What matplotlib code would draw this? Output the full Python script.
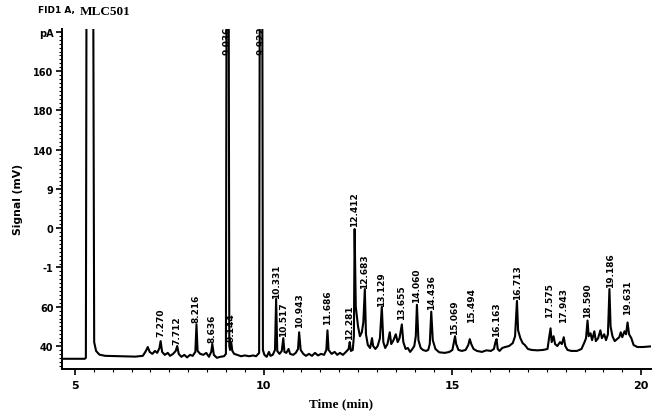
import numpy as np
import matplotlib.pyplot as plt
from matplotlib.ticker import MultipleLocator

# detector trace (time in min, signal)
time_min = [4.60, 5.26, 5.29, 5.31, 5.48, 5.51, 5.56, 5.65, 5.80, 6.20, 6.60, 6.80,
            6.88, 6.93, 6.98, 7.05, 7.12, 7.18, 7.24, 7.27, 7.31, 7.38, 7.46, 7.52,
            7.60, 7.67, 7.71, 7.75, 7.82, 7.90, 7.97, 8.05, 8.12, 8.19, 8.22, 8.25,
            8.32, 8.40, 8.48, 8.55, 8.61, 8.64, 8.68, 8.76, 8.85, 8.95, 9.00, 9.02,
            9.07, 9.09, 9.11, 9.14, 9.17, 9.22, 9.30, 9.40, 9.50, 9.62, 9.72, 9.80,
            9.88, 9.90, 9.96, 9.98, 10.02, 10.08, 10.14, 10.18, 10.24, 10.30, 10.33, 10.36,
            10.42, 10.48, 10.52, 10.55, 10.60, 10.66, 10.70, 10.78, 10.85, 10.91, 10.94, 10.98,
            11.05, 11.12, 11.20, 11.28, 11.36, 11.44, 11.52, 11.60, 11.66, 11.69, 11.72, 11.80,
            11.88, 11.95, 12.02, 12.10, 12.18, 12.25, 12.28, 12.31, 12.36, 12.39, 12.41, 12.44,
            12.50, 12.55, 12.60, 12.64, 12.68, 12.71, 12.76, 12.82, 12.87, 12.90, 12.96, 13.02,
            13.08, 13.13, 13.17, 13.22, 13.28, 13.34, 13.38, 13.44, 13.50, 13.55, 13.60, 13.66,
            13.70, 13.76, 13.82, 13.88, 13.94, 13.99, 14.03, 14.06, 14.10, 14.16, 14.22, 14.30,
            14.36, 14.40, 14.44, 14.48, 14.55, 14.65, 14.80, 14.92, 15.00, 15.04, 15.07, 15.10,
            15.16, 15.25, 15.35, 15.42, 15.46, 15.50, 15.56, 15.65, 15.78, 15.90, 16.02, 16.10,
            16.14, 16.17, 16.20, 16.25, 16.32, 16.40, 16.50, 16.60, 16.66, 16.71, 16.74, 16.80,
            16.86, 16.92, 17.00, 17.10, 17.25, 17.40, 17.52, 17.56, 17.60, 17.63, 17.68, 17.72,
            17.78, 17.85, 17.90, 17.95, 17.99, 18.05, 18.15, 18.30, 18.42, 18.50, 18.54, 18.58,
            18.61, 18.66, 18.70, 18.76, 18.80, 18.86, 18.92, 18.96, 19.02, 19.07, 19.12, 19.16,
            19.19, 19.24, 19.30, 19.36, 19.42, 19.46, 19.50, 19.56, 19.60, 19.64, 19.68, 19.74,
            19.80, 19.90, 20.05, 20.25]
signal = [33.5, 33.5, 34.0, 260, 260, 42.0, 37.5, 35.6, 35.0, 34.8, 34.6, 35.0,
          37.5, 39.5, 37.0, 36.0, 37.5, 36.5, 39.0, 42.5, 37.0, 35.5, 36.5, 35.0,
          36.0, 37.5, 40.0, 36.0, 34.5, 35.5, 34.2, 35.5, 35.0, 37.0, 51.0, 37.5,
          36.0, 35.5, 36.5, 34.5, 37.0, 41.0, 35.5, 34.0, 34.5, 34.8, 36.0, 260,
          260, 40.0, 38.0, 42.0, 37.5, 36.0, 35.5, 34.8, 35.2, 34.8, 35.2, 34.8,
          36.5, 260, 260, 38.0, 35.5, 34.5, 37.0, 35.0, 35.5, 38.0, 64.0, 37.5,
          36.0, 37.5, 44.0, 37.0, 36.5, 38.5, 36.0, 35.5, 36.5, 38.5, 47.0, 38.0,
          36.0, 35.0, 36.0, 35.0, 36.5, 35.2, 36.0, 35.5, 38.0, 48.0, 38.0, 36.0,
          37.0, 35.5, 36.5, 35.5, 37.0, 38.5, 42.0, 37.5, 38.0, 45.0, 99.6, 60.0,
          50.0, 45.0, 47.0, 52.0, 69.0, 46.0, 40.5, 39.0, 44.0, 40.0, 38.5, 40.0,
          44.0, 60.0, 42.0, 39.0, 41.0, 47.0, 41.0, 43.0, 46.0, 42.0, 44.0, 51.0,
          42.0, 38.5, 39.0, 37.0, 38.5, 40.0, 45.0, 61.0, 43.0, 39.0, 38.0, 37.5,
          38.0, 41.0, 57.5, 43.0, 38.5, 36.8, 36.5, 37.0, 38.0, 42.0, 45.0, 41.0,
          38.0, 37.5, 38.0, 40.5, 43.5, 41.0, 38.5, 37.5, 37.0, 37.8, 37.5, 38.5,
          42.0, 43.5, 38.5, 37.5, 39.0, 39.5, 40.0, 41.5, 45.0, 63.0, 48.0, 44.0,
          41.5, 40.5, 38.5, 38.0, 37.8, 38.0, 38.5, 44.0, 49.0, 42.0, 45.0, 41.0,
          40.0, 42.0, 41.0, 44.5, 40.0, 38.0, 37.5, 37.5, 38.5, 42.0, 44.0, 53.0,
          45.0, 46.5, 43.0, 47.5, 42.5, 44.0, 48.0, 44.0, 46.0, 43.0, 46.0, 69.0,
          50.0, 45.0, 42.5, 43.5, 44.5, 47.0, 44.5, 47.5, 46.0, 52.0, 46.0, 44.0,
          40.5, 39.5, 39.5, 39.8]

# retention time labels and the height where each label starts
peak_labels = ["7.270", "7.712", "8.216", "8.636", "9.036", "9.144", "9.922",
               "10.331", "10.517", "10.943", "11.686", "12.281", "12.412", "12.683",
               "13.129", "13.655", "14.060", "14.436", "15.069", "15.494", "16.163",
               "16.713", "17.575", "17.943", "18.590", "19.186", "19.631"]
label_base = [45.0, 41.0, 52.2, 42.0, 188.5, 42.5, 188.5,
              64.5, 45.0, 49.7, 51.2, 43.6, 101.0, 69.5,
              60.4, 53.8, 62.4, 58.9, 46.1, 52.2, 45.1,
              64.0, 54.8, 52.2, 54.8, 70.0, 56.3]

y_ticks = [40, 60, 80, 100, 120, 140, 160, 180, 200]
y_tick_labels = ["40", "60", "-1", "0", "9", "140", "180", "160", "pA"]
x_ticks = [5, 10, 15, 20]

fig = plt.figure(figsize=(6.52, 4.14), dpi=100)
ax = fig.add_axes([0.095, 0.1063, 0.9034, 0.8213])

ax.plot(time_min, signal, color='black', linewidth=1.5)

for lab, base in zip(peak_labels, label_base):
    ax.text(float(lab), base, lab, rotation=90, ha='center', va='bottom',
            fontsize=6.5, fontweight='bold', color='black')

ax.set_xlim(4.656, 20.26)
ax.set_ylim(28.3, 201.5)

ax.spines['top'].set_visible(False)
ax.spines['right'].set_visible(False)
ax.spines['left'].set_linewidth(1.4)
ax.spines['bottom'].set_linewidth(1.4)

ax.set_yticks(y_ticks)
ax.set_yticklabels(y_tick_labels, fontsize=7, fontweight='bold')
ax.set_xticks(x_ticks)
ax.set_xticklabels([str(v) for v in x_ticks], fontsize=8, fontweight='bold')
ax.yaxis.set_minor_locator(MultipleLocator(2))
ax.xaxis.set_minor_locator(MultipleLocator(0.5))
ax.tick_params(axis='both', which='major', length=4, width=1.2, pad=2)
ax.tick_params(axis='x', which='major', pad=4)
ax.tick_params(axis='both', which='minor', length=2, width=0.8)

fig.text(0.058, 0.975, "FID1 A,", fontsize=6.5, fontweight='bold', va='center')
fig.text(0.123, 0.972, "MLC501", family='Liberation Serif',
         fontsize=9.5, fontweight='bold', va='center')
fig.text(0.028, 0.517, "Signal (mV)", rotation=90, fontsize=7.8,
         fontweight='bold', ha='center', va='center')
fig.text(0.523, 0.024, "Time (min)", family='Liberation Serif',
         fontsize=9.5, fontweight='bold', ha='center', va='center')

plt.savefig('out.png', dpi=100)
